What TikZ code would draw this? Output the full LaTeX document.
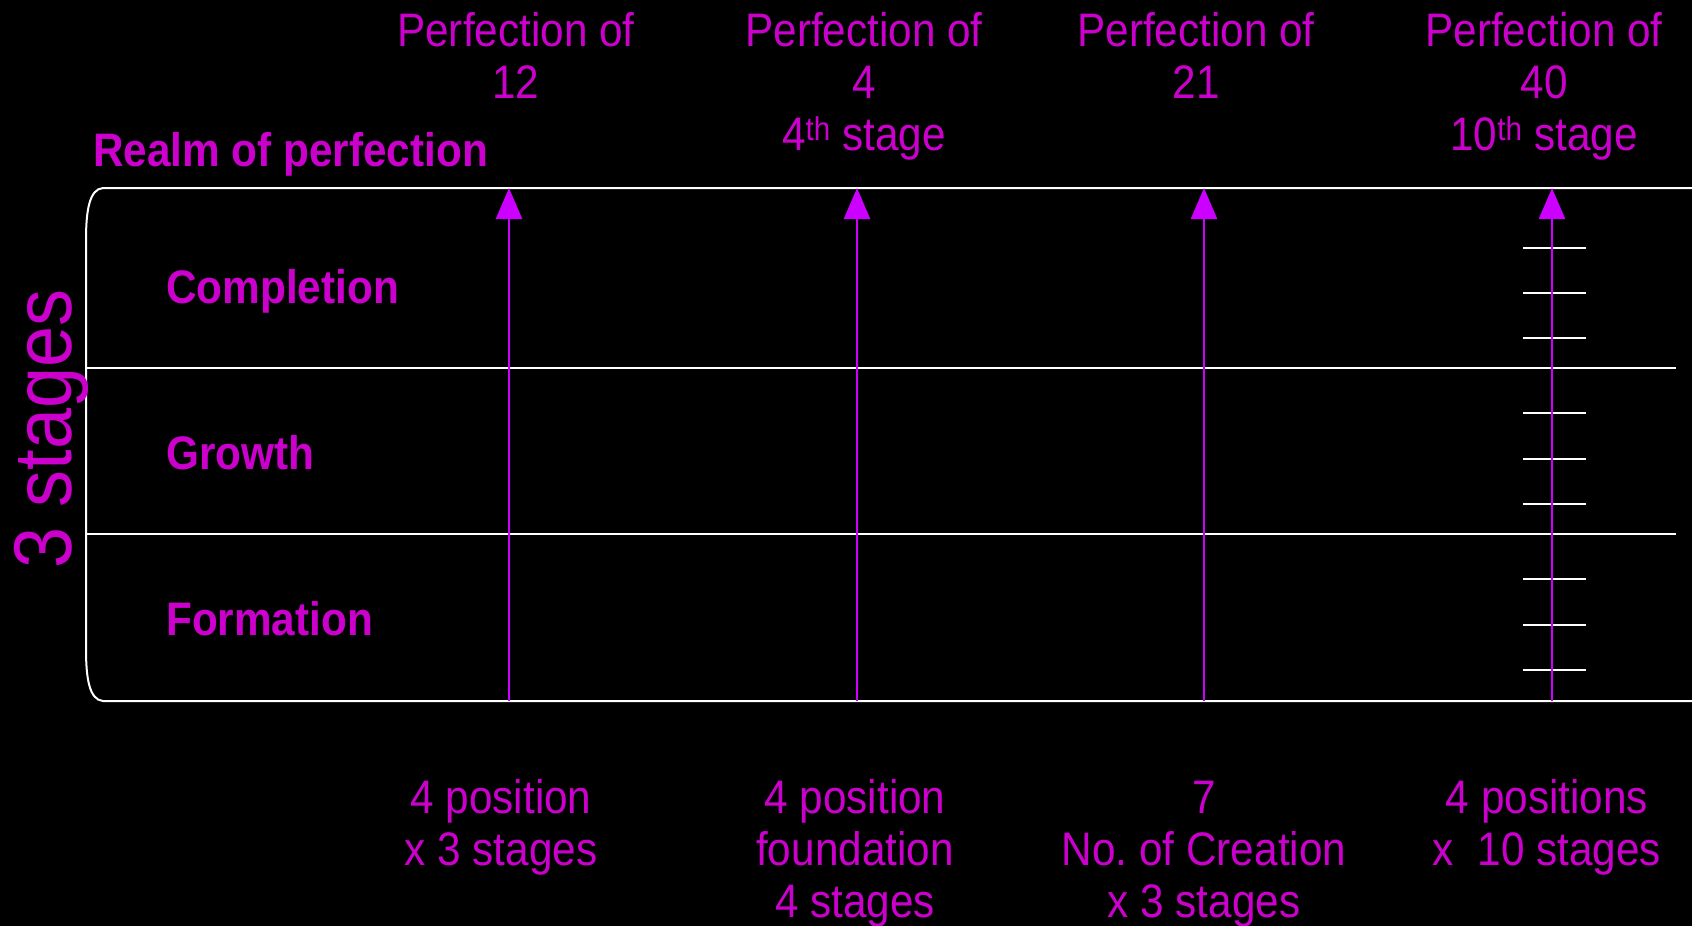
\documentclass[tikz,border=0pt]{standalone}
\usepackage{fontspec}
\setmainfont{Liberation Sans}[FakeStretch=0.9]
\usetikzlibrary{arrows.meta}

\definecolor{labelmag}{RGB}{204,0,204}
\definecolor{arrowmag}{RGB}{204,0,255}

\tikzset{
  frameline/.style={draw=white,line width=2pt},
  tickline/.style={draw=white,line width=2pt},
  pfarrow/.style={draw=arrowmag,fill=arrowmag,line width=2.5pt,-{Triangle[length=31pt,width=26pt]}},
  pflabel/.style={labelmag,align=center,anchor=base,inner sep=0pt,font=\fontsize{47}{52}\selectfont},
  rowlabel/.style={labelmag,anchor=base west,inner sep=0pt,font=\fontsize{47}{52}\selectfont\bfseries},
}

\begin{document}
\begin{tikzpicture}[x=1pt,y=-1pt]
    \useasboundingbox (0,0) rectangle (1692,926);
    \fill[black] (0,0) rectangle (1692,926);
    % frame with the three rows
    \draw[frameline] (1692,188) -- (103,188) .. controls (89,189) and (86,212) .. (86,240)
      -- (86,649) .. controls (86,677) and (89,700) .. (103,701) -- (1692,701);
    \draw[frameline] (86,368) -- (1676,368);
    \draw[frameline] (86,534) -- (1676,534);
    \foreach \y in {248,293,338,413,459,504,579,625,670} \draw[tickline] (1523,\y) -- (1586,\y);
    % arrows
    \foreach \x/\n in {509/a,857/b,1204/c,1552/d} {
      \coordinate (bot\n) at (\x,701);
      \coordinate (top\n) at (\x,188);
      \draw[pfarrow] (bot\n) -- (top\n);
    }
    % row names
    \node[rowlabel] (realm) at (93,166) {Realm of perfection};
    \node[rowlabel] (completion) at (166,303) {Completion};
    \node[rowlabel] (growth) at (166,469) {Growth};
    \node[rowlabel] (formation) at (166,635) {Formation};
    \node[labelmag,rotate=90,anchor=base,inner sep=0pt,font=\fontsize{82}{90}\selectfont] (stages) at (71,429) {3 stages};
    % top (base = last line)
    \node[pflabel] (pfa) at (516,98) {Perfection of\\12};
    \node[pflabel] (pfb) at (864,150) {Perfection of\\4\\4\textsuperscript{th} stage};
    \node[pflabel] (pfc) at (1196,98) {Perfection of\\21};
    \node[pflabel] (pfd) at (1544,150) {Perfection of\\40\\10\textsuperscript{th} stage};
    % bottom
    \node[pflabel] (posa) at (501,865) {4 position\\x 3 stages};
    \node[pflabel] (posb) at (855,917) {4 position\\foundation\\4 stages};
    \node[pflabel] (posc) at (1204,917) {7\\No.\ of Creation\\x 3 stages};
    \node[pflabel] (posd) at (1547,865) {4 positions\\x~~10 stages};
  \end{tikzpicture}
\end{document}
